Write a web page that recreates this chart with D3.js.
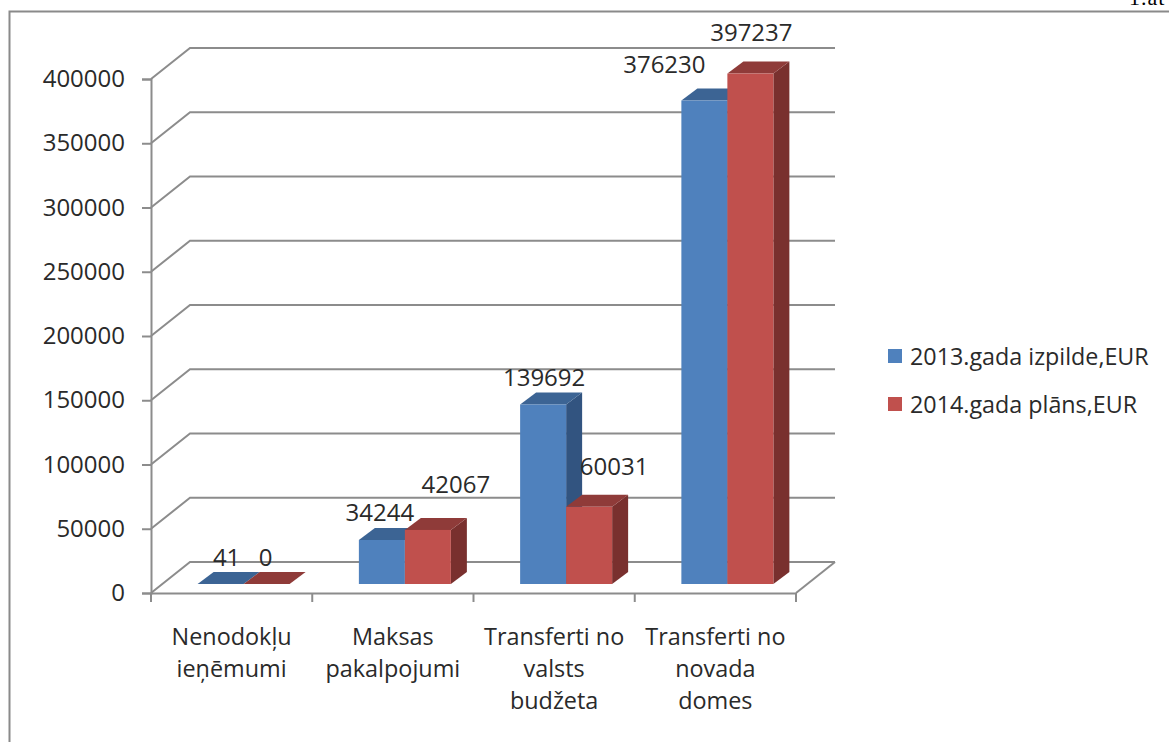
<!DOCTYPE html>
<html>
<head>
<meta charset="utf-8">
<script src="https://cdn.jsdelivr.net/npm/d3@7"></script>
<style>
  html, body { margin: 0; padding: 0; background: #fff; }
  svg { display: block; }
  text { font-family: "Open Sans", sans-serif; fill: #2a2a2a; }
</style>
</head>
<body>
<div id="chart"></div>
<script>
var categories = ["Nenodokļu ieņēmumi", "Maksas pakalpojumi", "Transferti no valsts budžeta", "Transferti no novada domes"];
var categoryLines = [["Nenodokļu", "ieņēmumi"], ["Maksas", "pakalpojumi"], ["Transferti no", "valsts", "budžeta"], ["Transferti no", "novada", "domes"]];
var seriesNames = ["2013.gada izpilde,EUR", "2014.gada plāns,EUR"];
var izpilde2013 = [41, 34244, 139692, 376230];
var plans2014 = [0, 42067, 60031, 397237];
var yTicks = [0, 50000, 100000, 150000, 200000, 250000, 300000, 350000, 400000];

var width = 1169, height = 742;
var gridColor = "#8c8c8c";
var colors = [
    { front: "#4f81bd", top: "#3c6494", side: "#325480" },
    { front: "#c0504d", top: "#8f3b39", side: "#79302e" }
];

// 3d box offsets
var wall = { dx: 39, dy: 31 };
var inset = { dx: 12, dy: 9 };
var depth = { dx: 16, dy: 12 };
var barWidth = 46;

var svg = d3.select("#chart")
    .append("svg")
    .attr("width", width)
    .attr("height", height);

// page frame, runs off the right and bottom of the crop
svg.append("path")
    .attr("d", "M9.5," + height + "V11.5H" + width)
    .attr("fill", "none")
    .attr("stroke", "#8a8a8a")
    .attr("stroke-width", 2);

svg.append("text")
    .attr("x", 1129)
    .attr("y", 5)
    .style("font-family", "'Liberation Serif', serif")
    .style("font-size", "22px")
    .style("letter-spacing", "1px")
    .style("fill", "#000")
    .text("1.at");

var x = d3.scaleBand()
    .domain(categories)
    .range([151, 796]);

var y = d3.scaleLinear()
    .domain([0, 400000])
    .range([593, 79]);

// back wall and side wall gridlines
svg.append("g").selectAll("path")
    .data(yTicks)
    .enter().append("path")
    .attr("fill", "none")
    .attr("stroke", gridColor)
    .attr("stroke-width", 2)
    .attr("d", function (d) {
        return "M151," + y(d) + "L" + (151 + wall.dx) + "," + (y(d) - wall.dy) + "H" + (796 + wall.dx);
    });

// floor edge
svg.append("path")
    .attr("fill", "none")
    .attr("stroke", gridColor)
    .attr("stroke-width", 2)
    .attr("d", "M796," + y(0) + "L" + (796 + wall.dx) + "," + (y(0) - wall.dy));

var yAxis = svg.append("g")
    .attr("transform", "translate(151,0)")
    .call(d3.axisLeft(y).tickValues(yTicks).tickFormat(d3.format("d")).tickSize(9).tickPadding(17));

var xAxis = svg.append("g")
    .attr("transform", "translate(0," + y(0) + ")")
    .call(d3.axisBottom(x).tickSize(0).tickFormat(""));

// excel puts the ticks between categories, not on them
xAxis.selectAll(".tick").remove();
xAxis.selectAll(".edge")
    .data(categories.concat(["end"]))
    .enter().append("line")
    .attr("x1", function (d, i) { return 151 + i * x.bandwidth(); })
    .attr("x2", function (d, i) { return 151 + i * x.bandwidth(); })
    .attr("y1", 0)
    .attr("y2", 9)
    .attr("stroke", gridColor)
    .attr("stroke-width", 2);

[yAxis, xAxis].forEach(function (a) {
    a.selectAll(".domain, .tick line")
        .attr("stroke", gridColor)
        .attr("stroke-width", 2);
});
yAxis.selectAll("text")
    .style("font-size", "24px")
    .style("font-family", "'Open Sans', sans-serif")
    .style("fill", "#2a2a2a");

// category labels
svg.append("g").selectAll("text")
    .data(categories)
    .enter().append("text")
    .attr("text-anchor", "middle")
    .style("font-size", "23.4px")
    .each(function (d, i) {
        d3.select(this).selectAll("tspan")
            .data(categoryLines[i])
            .enter().append("tspan")
            .attr("x", x(d) + x.bandwidth() / 2)
            .attr("y", function (line, j) { return 645 + j * 32; })
            .text(function (line) { return line; });
    });

// bars, series 2 is drawn after series 1 so it covers the blue side face
var bars = [izpilde2013, plans2014];
bars.forEach(function (values, s) {
    var c = colors[s];
    var g = svg.append("g");
    var left = function (i) {
        return x(categories[i]) + x.bandwidth() / 2 + inset.dx - barWidth + s * barWidth;
    };
    var base = y(0) - inset.dy;
    var top = function (d) { return base - (y(0) - y(d)); };

    g.selectAll(".side")
        .data(values)
        .enter().append("path")
        .attr("fill", c.side)
        .attr("d", function (d, i) {
            var r = left(i) + barWidth;
            return "M" + r + "," + base + "V" + top(d) + "l" + depth.dx + "," + (-depth.dy) +
                "V" + (base - depth.dy) + "Z";
        });

    g.selectAll(".top")
        .data(values)
        .enter().append("path")
        .attr("fill", c.top)
        .attr("d", function (d, i) {
            return "M" + left(i) + "," + top(d) + "h" + barWidth + "l" + depth.dx + "," + (-depth.dy) +
                "h" + (-barWidth) + "Z";
        });

    g.selectAll(".front")
        .data(values)
        .enter().append("rect")
        .attr("fill", c.front)
        .attr("x", function (d, i) { return left(i); })
        .attr("y", function (d) { return top(d); })
        .attr("width", barWidth)
        .attr("height", function (d) { return base - top(d); });
});

// data labels were moved by hand in the original, so each has its own nudge
var labelNudge = [
    [[6, -18], [-2, -19], [1, -18], [-40, -28]],
    [[-1, -18], [28, -37], [25, -32], [1, -33]]
];
bars.forEach(function (values, s) {
    svg.append("g").selectAll("text")
        .data(values)
        .enter().append("text")
        .attr("text-anchor", "middle")
        .style("font-size", "24px")
        .attr("x", function (d, i) {
            return x(categories[i]) + x.bandwidth() / 2 + inset.dx + (s - 0.5) * barWidth + labelNudge[s][i][0];
        })
        .attr("y", function (d, i) {
            return y(d) - inset.dy + labelNudge[s][i][1];
        })
        .text(function (d) { return d; });
});

// legend
var legend = svg.append("g").selectAll("g")
    .data(seriesNames)
    .enter().append("g")
    .attr("transform", function (d, i) { return "translate(888," + (349 + i * 48) + ")"; });

legend.append("rect")
    .attr("width", 14)
    .attr("height", 14)
    .attr("fill", function (d, i) { return colors[i].front; });

legend.append("text")
    .attr("x", 22)
    .attr("y", 16)
    .style("font-size", "23.3px")
    .text(function (d) { return d; });
</script>
</body>
</html>
